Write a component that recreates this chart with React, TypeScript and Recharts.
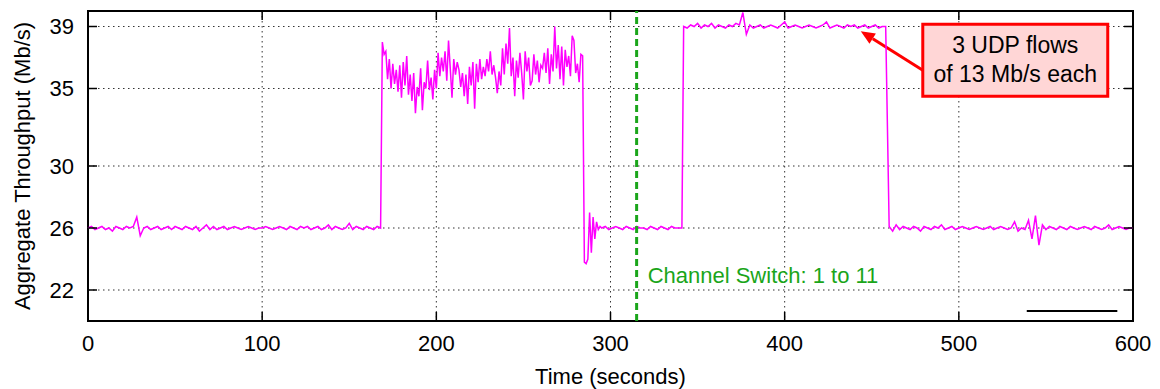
import { LineChart, Line, XAxis, YAxis, CartesianGrid, ReferenceLine, ReferenceArea } from "recharts"

// x ticks (seconds) and y ticks (Mb/s)
const timeTicks = [0, 100, 200, 300, 400, 500, 600]
const rateTicks = [22, 26, 30, 35, 39]

// single TCP flow on channel 1, t = 0..168 every 2 s
const flatStart = [
  26.0, 26.1, 25.9, 26.0, 26.1, 25.9, 26.0, 25.8, 26.1, 26.0,
  25.9, 26.1, 26.0, 26.1, 26.7, 25.5, 26.0, 26.1, 25.9, 26.0,
  26.1, 25.9, 26.0, 26.1, 25.9, 26.1, 26.0, 25.9, 26.1, 26.0,
  25.9, 26.1, 25.8, 26.0, 26.2, 25.9, 26.1, 25.9, 26.0, 26.1,
  25.9, 26.0, 26.1, 26.0, 25.9, 26.0, 26.1, 26.0, 25.9, 26.0,
  26.0, 26.1, 26.0, 25.9, 26.0, 26.1, 26.0, 25.9, 26.1, 26.0,
  25.9, 26.1, 26.0, 26.1, 25.9, 26.0, 26.1, 25.9, 26.0, 26.2,
  25.9, 26.1, 26.0, 25.9, 26.0, 26.3, 25.9, 26.1, 26.0, 25.9,
  26.1, 26.0, 25.9, 26.1, 26.0,
]

// noisy TCP phase, t = 169..284 every 1 s
const tcpPhase = [
  38.0, 37.2, 37.4, 35.6, 36.9, 35.0, 36.6, 35.3, 36.2, 34.8,
  36.5, 34.4, 36.7, 35.2, 37.1, 34.6, 35.9, 34.2, 36.0, 33.4,
  35.1, 34.5, 36.3, 33.6, 35.4, 35.0, 36.8, 34.9, 35.7, 34.3,
  36.2, 35.0, 37.3, 35.8, 37.0, 36.1, 37.4, 35.5, 38.1, 36.3,
  34.4, 36.9, 35.9, 36.7, 36.2, 35.1, 36.0, 34.5, 35.9, 34.0,
  36.4, 35.2, 36.7, 33.7, 36.6, 35.4, 36.9, 35.6, 36.4, 35.8,
  36.9, 36.1, 37.4, 35.9, 36.5, 35.7, 34.7, 36.1, 35.2, 37.6,
  35.9, 37.9, 36.6, 38.9, 35.8, 37.0, 34.5, 36.8, 35.7, 37.3,
  36.0, 34.3, 37.4, 36.1, 37.0, 35.2, 35.5, 37.2, 35.9, 36.8,
  35.4, 36.5, 36.3, 37.3, 36.0, 37.6, 35.3, 37.2, 36.1, 39.0,
  36.3, 37.8, 35.6, 37.7, 35.2, 37.5, 36.4, 37.1, 35.8, 38.4,
  38.1, 36.0, 36.6, 35.4, 37.2, 37.1,
]

// collapse after the TCP phase, t = 285..294 every 1 s
const dropPhase = [23.8, 23.7, 24.0, 27.0, 24.4, 26.7, 25.3, 26.4, 25.9, 26.1]

// back to 26 Mb/s, t = 295..341 every 2 s
const flatMiddle = [
  26.0, 26.1, 25.9, 26.0, 26.1, 26.0, 25.9, 26.1, 26.0, 25.9,
  26.1, 26.0, 26.0, 25.9, 26.1, 26.0, 25.9, 26.1, 26.0, 25.9,
  26.1, 26.0, 26.0, 26.0,
]

// 3 UDP flows, t = 342..458 every 2 s
const udpPhase = [
  39.0, 38.9, 39.1, 39.0, 39.2, 38.9, 39.1, 39.0, 39.2, 38.9,
  39.1, 39.0, 38.9, 39.1, 39.0, 39.2, 39.1, 39.9, 38.5, 39.1,
  38.9, 39.0, 39.1, 38.9, 39.0, 39.1, 39.0, 38.9, 39.1, 39.3,
  38.9, 39.0, 39.1, 39.0, 38.9, 39.0, 39.1, 39.0, 38.9, 39.0,
  39.1, 39.3, 38.9, 39.0, 39.1, 39.0, 38.9, 39.1, 39.0, 39.1,
  38.9, 39.0, 39.1, 38.9, 39.0, 39.1, 38.9, 39.0, 39.0,
]

// t = 460..600 every 2 s
const flatEnd = [
  26.1, 25.8, 26.2, 25.9, 26.1, 26.0, 25.9, 26.1, 26.0, 25.8,
  26.1, 26.0, 25.9, 26.1, 26.0, 26.2, 25.9, 26.0, 26.1, 25.9,
  26.0, 26.1, 26.0, 25.9, 26.0, 26.1, 26.0, 25.9, 26.0, 26.1,
  25.9, 26.0, 26.1, 26.0, 25.9, 26.0, 26.4, 25.8, 26.0, 25.9,
  26.5, 25.3, 26.8, 24.9, 26.2, 25.9, 26.1, 26.0, 25.9, 26.1,
  26.0, 25.9, 26.1, 26.0, 25.9, 26.0, 26.1, 26.0, 25.9, 26.1,
  26.0, 25.9, 26.0, 26.2, 25.9, 26.0, 26.1, 26.0, 25.9, 26.0,
  26.0,
]

const segments = [
  { start: 0, step: 2, values: flatStart },
  { start: 169, step: 1, values: tcpPhase },
  { start: 285, step: 1, values: dropPhase },
  { start: 295, step: 2, values: flatMiddle },
  { start: 342, step: 2, values: udpPhase },
  { start: 460, step: 2, values: flatEnd },
]

const data = segments.flatMap((s) => s.values.map((v, i) => ({ t: s.start + i * s.step, v })))

const FONT = "'Liberation Sans', Arial, Helvetica, sans-serif"
const W = 1160
const H = 389
const TOP = 11
const RIGHT = 27
const LEFT = 88
const BOTTOM = 68
const TICK = 9

const XTick = (props: any) => {
  const { x, y, payload } = props
  return (
    <g>
      <line x1={x} x2={x} y1={y} y2={y - TICK} stroke="#000" strokeWidth={1.5} />
      <line x1={x} x2={x} y1={TOP} y2={TOP + TICK} stroke="#000" strokeWidth={1.5} />
      <text x={x} y={y + 30} textAnchor="middle" fontSize={22} fontFamily={FONT} fill="#000">
        {payload.value}
      </text>
    </g>
  )
}

const YTick = (props: any) => {
  const { x, y, payload } = props
  return (
    <g>
      <line x1={x} x2={x + TICK} y1={y} y2={y} stroke="#000" strokeWidth={1.5} />
      <line x1={W - RIGHT - TICK} x2={W - RIGHT} y1={y} y2={y} stroke="#000" strokeWidth={1.5} />
      <text x={x - 14} y={y} dy="0.36em" textAnchor="end" fontSize={22} fontFamily={FONT} fill="#000">
        {payload.value}
      </text>
    </g>
  )
}

const UdpNote = (props: any) => {
  const { x, y, width } = props.viewBox
  return (
    <g fontFamily={FONT}>
      <line x1={x} y1={y + 46} x2={x - 50} y2={y + 14.5} stroke="#ff0000" strokeWidth={3} />
      <polygon
        points={`${x - 62},${y + 7} ${x - 46.9},${y + 9.4} ${x - 53.3},${y + 19.6}`}
        fill="#ff0000"
      />
      <text x={x + width / 2} y={y + 21} dy="0.36em" textAnchor="middle" fontSize={23} fill="#000">
        3 UDP flows
      </text>
      <text x={x + width / 2} y={y + 50} dy="0.36em" textAnchor="middle" fontSize={23} fill="#000">
        of 13 Mb/s each
      </text>
    </g>
  )
}

const SwitchLabel = (props: any) => {
  const { x, y } = props.viewBox
  return (
    <text x={x + 11} y={y + 264} dy="0.36em" fontSize={22} fontFamily={FONT} fill="#1aa51a">
      Channel Switch: 1 to 11
    </text>
  )
}

export default function App() {
  return (
    <div style={{ position: "absolute", left: 0, top: 0, width: W, height: H, background: "#fff" }}>
      <LineChart width={W} height={H} data={data} margin={{ top: TOP, right: RIGHT, bottom: 0, left: 0 }}>
        <CartesianGrid stroke="#333" strokeDasharray="1.5 3.5" />
        <XAxis
          dataKey="t"
          type="number"
          domain={[0, 600]}
          ticks={timeTicks}
          interval={0}
          height={BOTTOM}
          tickSize={0}
          tickMargin={0}
          tickLine={false}
          axisLine={false}
          tick={<XTick />}
          label={{
            content: (p: any) => (
              <text
                x={p.viewBox.x + p.viewBox.width / 2}
                y={p.viewBox.y + 55}
                dy="0.36em"
                textAnchor="middle"
                fontSize={22}
                fontFamily={FONT}
                fill="#000"
              >
                Time (seconds)
              </text>
            ),
          }}
        />
        <YAxis
          type="number"
          domain={[20, 40]}
          ticks={rateTicks}
          interval={0}
          width={LEFT}
          tickSize={0}
          tickMargin={0}
          tickLine={false}
          axisLine={false}
          tick={<YTick />}
          label={{
            content: (p: any) => {
              const cx = p.viewBox.x + 22
              const cy = p.viewBox.y + p.viewBox.height / 2
              return (
                <text
                  x={cx}
                  y={cy}
                  dy="0.36em"
                  transform={`rotate(-90 ${cx} ${cy})`}
                  textAnchor="middle"
                  fontSize={22}
                  fontFamily={FONT}
                  fill="#000"
                >
                  Aggregate Throughput (Mb/s)
                </text>
              )
            },
          }}
        />
        <Line type="linear" dataKey="v" stroke="#ff00ff" strokeWidth={1.5} dot={false} isAnimationActive={false} />
        <ReferenceLine x={315} stroke="#1aa51a" strokeWidth={3} strokeDasharray="7 4" label={<SwitchLabel />} />
        <ReferenceLine
          segment={[
            { x: 539, y: 20.65 },
            { x: 591, y: 20.65 },
          ]}
          stroke="#000"
          strokeWidth={2}
        />
        <ReferenceArea
          x1={479.3}
          x2={585.5}
          y1={34.5}
          y2={39.15}
          fill="#ffd6d6"
          fillOpacity={1}
          stroke="#ff0000"
          strokeWidth={3}
          label={<UdpNote />}
        />
        <ReferenceArea x1={0} x2={600} y1={20} y2={40} fill="none" stroke="#000" strokeWidth={2} />
      </LineChart>
    </div>
  )
}
